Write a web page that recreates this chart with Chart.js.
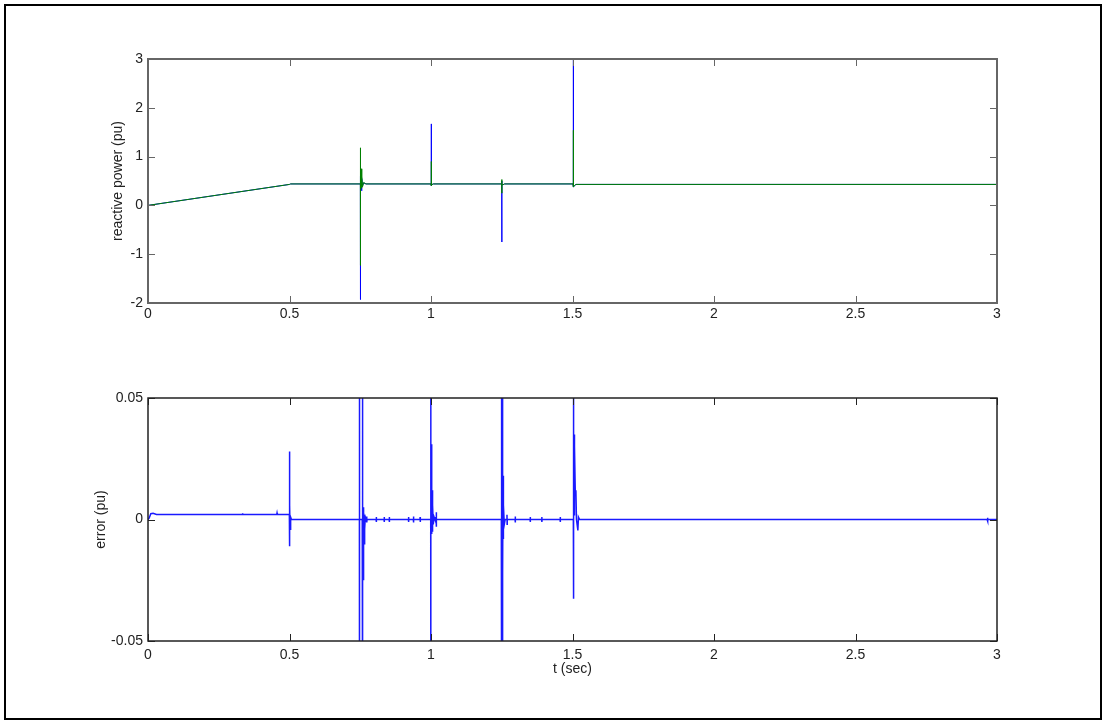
<!DOCTYPE html>
<html>
<head>
<meta charset="utf-8">
<script src="https://cdn.jsdelivr.net/npm/chart.js@4/dist/chart.umd.min.js"></script>
<style>
  html, body { margin: 0; padding: 0; background: #fff; }
  #frame { position: absolute; left: 4px; top: 4px; width: 1098px; height: 716px; box-sizing: border-box; border: 2px solid #000; }
  .pane { position: absolute; left: 0; width: 1102px; height: 360px; }
  #paneTop { top: 0; }
  #paneBot { top: 360px; }
</style>
</head>
<body>
<div id="frame"></div>
<div class="pane" id="paneTop"><canvas id="qChart"></canvas></div>
<div class="pane" id="paneBot"><canvas id="errChart"></canvas></div>
<script>
// Time axis ticks (s) and y ticks for both panels
const xTicks = [0, 0.5, 1, 1.5, 2, 2.5, 3];
const qTicks = [-2, -1, 0, 1, 2, 3];
const errTicks = [-0.05, 0, 0.05];

// Reactive power: reference (blue) and measured (green), pu
const tQ =    [0, 0.5, 0.504, 0.7505, 0.7506, 0.7508, 0.751, 0.753, 0.7545, 0.756, 0.758, 0.762, 0.77,
               1.0, 1.0002, 1.0004, 1.003, 1.008, 1.25, 1.2502, 1.2504, 1.2506, 1.253, 1.26,
               1.502, 1.5022, 1.5024, 1.505, 1.512, 3];
const qBlue = [0, 0.43, 0.44, 0.44, -1.93, 0.6, 0.44, 0.44, 0.30, 0.55, 0.40, 0.46, 0.44,
               0.44, 1.67, 0.40, 0.42, 0.44, 0.44, -0.75, 0.50, 0.44, 0.42, 0.44,
               0.44, 3.0, 0.40, 0.38, 0.43, 0.43];
const qGreen = [0, 0.43, 0.44, 0.44, -1.23, 1.18, 0.44, 0.75, 0.35, 0.60, 0.38, 0.47, 0.44,
               0.44, 0.90, 0.40, 0.42, 0.44, 0.44, 0.25, 0.53, 0.44, 0.42, 0.44,
               0.44, 1.54, 0.40, 0.38, 0.43, 0.43];

// Tracking error, pu
const tErr = [0, 0.004, 0.01, 0.018, 0.03, 0.333, 0.334, 0.335, 0.455, 0.456, 0.457, 0.4995,
  0.5, 0.5003, 0.5008, 0.502, 0.504, 0.507,
  0.747, 0.7472, 0.7474, 0.7476, 0.757, 0.7572, 0.7574, 0.758, 0.7582, 0.7584, 0.759,
  0.7595, 0.76, 0.7605, 0.761, 0.7615, 0.762, 0.7625, 0.763, 0.764, 0.765, 0.766, 0.768, 0.771,
  0.7725, 0.773, 0.7735, 0.774, 0.806, 0.8065, 0.807, 0.8075, 0.834, 0.8345, 0.835, 0.8355,
  0.852, 0.8525, 0.853, 0.8535, 0.92, 0.9205, 0.921, 0.9215, 0.9375, 0.938, 0.9385, 0.939,
  0.961, 0.9615, 0.962, 0.9625,
  0.999, 0.9992, 0.9994, 0.9996, 1.001, 1.0015, 1.002, 1.0025, 1.003, 1.0035, 1.004, 1.005, 1.006, 1.008, 1.011, 1.014,
  1.018, 1.0185, 1.019, 1.0195,
  1.2485, 1.2487, 1.2495, 1.2503, 1.2511, 1.2519, 1.2527, 1.253, 1.2535, 1.254, 1.2545, 1.255, 1.2555, 1.256, 1.257, 1.259, 1.262,
  1.268, 1.2685, 1.269, 1.2695, 1.297, 1.2975, 1.298, 1.2985, 1.35, 1.3505, 1.351, 1.3515,
  1.391, 1.3915, 1.392, 1.3925, 1.456, 1.4565, 1.457, 1.4575,
  1.503, 1.5032, 1.5034, 1.5036, 1.505, 1.5055, 1.506, 1.507, 1.508, 1.51, 1.512, 1.514, 1.519, 1.521, 1.525,
  2.965, 2.966, 2.967, 2.968, 3];
const err = [0, 0.0006, 0.0024, 0.0026, 0.0021, 0.0021, 0.0026, 0.0021, 0.0021, 0.0027, 0.0021, 0.0021,
  0.028, -0.011, 0.006, -0.004, 0.001, 0,
  0, 0.09, -0.09, 0, 0, 0.09, -0.09, 0.09, -0.09, 0, 0.006,
  -0.026, 0.005, -0.025, 0.004, -0.022, 0.003, -0.016, 0.002, -0.01, 0.002, -0.004, 0.001, 0,
  0, 0.0012, -0.0012, 0, 0, 0.001, -0.001, 0, 0, 0.001, -0.001, 0,
  0, 0.001, -0.001, 0, 0, 0.001, -0.001, 0, 0, 0.0012, -0.0012, 0,
  0, 0.001, -0.001, 0,
  0, 0.09, -0.09, 0, 0.031, -0.006, 0.026, -0.004, 0.02, 0, 0.012, -0.005, 0.006, -0.002, 0.001, 0,
  0, 0.003, -0.003, 0,
  0, 0.09, -0.09, 0.09, -0.09, 0.09, -0.09, -0.025, 0.004, -0.022, 0.018, -0.008, 0.014, -0.005, 0.006, -0.002, 0,
  0, 0.002, -0.002, 0, 0, 0.0012, -0.0012, 0, 0, 0.001, -0.001, 0,
  0, 0.001, -0.001, 0, 0, 0.001, -0.001, 0,
  0, 0.09, -0.0326, 0, 0.0368, 0.002, 0.035, 0.005, 0.03, 0.01, 0.012, 0, -0.0045, 0.001, 0,
  0, 0.0007, -0.0007, 0, 0];

const pts = (xs, ys) => xs.map((x, i) => ({ x: x, y: ys[i] }));

Chart.defaults.font.family = '"Liberation Sans", Arial, Helvetica, sans-serif';
Chart.defaults.font.size = 14;
Chart.defaults.color = '#222';
Chart.defaults.animation = false;

// Box around the plot area with inward tick marks on all four sides
const boxTicks = {
  id: 'boxTicks',
  afterDraw(chart, args, opts) {
    const { ctx, chartArea: a, scales } = chart;
    ctx.save();
    ctx.strokeStyle = opts.color;
    ctx.lineWidth = opts.width;
    ctx.strokeRect(a.left, a.top, a.right - a.left, a.bottom - a.top);
    ctx.lineWidth = 1;
    const L = opts.len;
    ctx.beginPath();
    scales.x.ticks.forEach(t => {
      const px = Math.round(scales.x.getPixelForValue(t.value)) + 0.5;
      ctx.moveTo(px, a.bottom); ctx.lineTo(px, a.bottom - L);
      ctx.moveTo(px, a.top); ctx.lineTo(px, a.top + L);
    });
    scales.y.ticks.forEach(t => {
      const py = Math.round(scales.y.getPixelForValue(t.value)) + 0.5;
      ctx.moveTo(a.left, py); ctx.lineTo(a.left + L, py);
      ctx.moveTo(a.right, py); ctx.lineTo(a.right - L, py);
    });
    ctx.stroke();
    ctx.restore();
  }
};

function makeChart(id, datasets, o) {
  return new Chart(document.getElementById(id), {
    type: 'line',
    data: { datasets: datasets },
    plugins: [boxTicks],
    options: {
      responsive: true,
      maintainAspectRatio: false,
      devicePixelRatio: 1,
      layout: { padding: { top: o.padTop, right: 105, left: 0, bottom: 0 } },
      elements: { point: { radius: 0 }, line: { borderWidth: 1, tension: 0 } },
      plugins: {
        legend: { display: false },
        tooltip: { enabled: false },
        boxTicks: { color: o.boxColor, width: o.boxWidth, len: 7 }
      },
      scales: {
        x: {
          type: 'linear', min: 0, max: 3,
          grid: { display: false, drawTicks: false },
          border: { display: false },
          afterBuildTicks: s => { s.ticks = xTicks.map(v => ({ value: v })); },
          afterFit: s => { s.height = o.xHeight; },
          ticks: { padding: o.xPad, maxRotation: 0, autoSkip: false, callback: v => String(v) },
          title: o.xTitle ? { display: true, text: o.xTitle, padding: { top: 0, bottom: o.xTitlePad } } : { display: false }
        },
        y: {
          type: 'linear', min: o.yMin, max: o.yMax,
          grid: { display: false, drawTicks: false },
          border: { display: false },
          afterBuildTicks: s => { s.ticks = o.yTicks.map(v => ({ value: v })); },
          afterFit: s => { s.width = 148; },
          ticks: { padding: 5, autoSkip: false, callback: v => String(v) },
          title: { display: true, text: o.yTitle, padding: { top: o.yTitlePad, bottom: 0 } }
        }
      }
    }
  });
}

makeChart('qChart', [
  { label: 'measured', data: pts(tQ, qGreen), borderColor: '#008000', order: 0 },
  { label: 'reference', data: pts(tQ, qBlue), borderColor: '#0000ff', order: 1 }
], {
  padTop: 59, xHeight: 57, xPad: 3, yMin: -2, yMax: 3, yTicks: qTicks,
  yTitle: 'reactive power (pu)', yTitlePad: 110, boxColor: '#666', boxWidth: 2
});

makeChart('errChart', [
  { label: 'error', data: pts(tErr, err), borderColor: '#1a1aff', borderWidth: 1.5 }
], {
  padTop: 38, xHeight: 79, xPad: 6, yMin: -0.05, yMax: 0.05, yTicks: errTicks,
  yTitle: 'error (pu)', yTitlePad: 93, boxColor: '#222', boxWidth: 1.5,
  xTitle: 't (sec)', xTitlePad: 42
});
</script>
</body>
</html>
